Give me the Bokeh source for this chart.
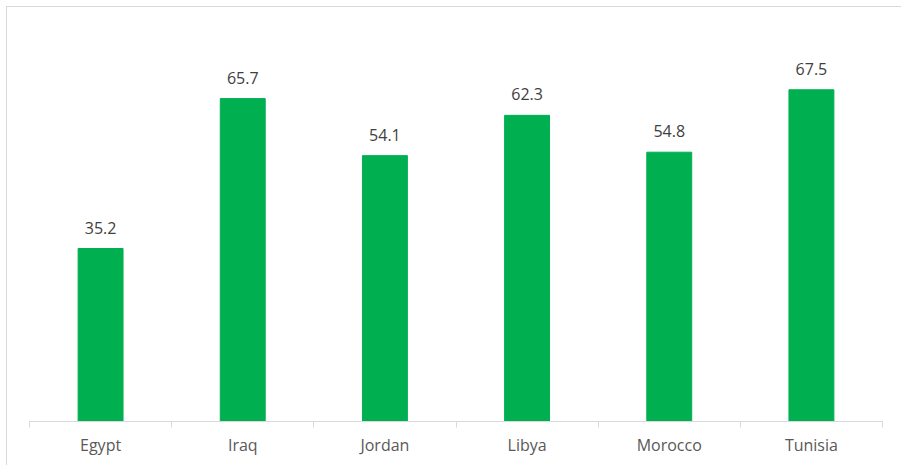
from bokeh.plotting import figure
from bokeh.models import ColumnDataSource, FixedTicker, Range1d, LabelSet
from bokeh.core.properties import value
from bokeh.embed import file_html
from bokeh.resources import INLINE

categories = ["Egypt", "Iraq", "Jordan", "Libya", "Morocco", "Tunisia"]
values = [35.2, 65.7, 54.1, 62.3, 54.8, 67.5]

xs = [i + 0.5 for i in range(len(categories))]
labels = [f"{v:.1f}" for v in values]
src = ColumnDataSource(dict(x=xs, top=values, label=labels))

p = figure(width=895, height=459, output_backend="svg", toolbar_location=None,
           x_range=Range1d(0, len(categories)), y_range=Range1d(0, 81.8),
           min_border_left=22, min_border_right=20, min_border_top=12, min_border_bottom=45)
p.styles = {"border-left": "1px solid #d9d9d9", "border-top": "1px solid #d9d9d9",
            "margin-left": "6px", "margin-top": "6px"}
p.outline_line_color = None
p.grid.visible = False
p.yaxis.visible = False

p.vbar(x="x", top="top", width=0.316, bottom=0, source=src, color="#00B050")

labs = LabelSet(x="x", y="top", text="label", source=src, text_align="center",
                text_baseline="bottom", y_offset=15, text_font=value("Open Sans"),
                text_font_size="16px", text_color="#404040")
p.add_layout(labs)

ax = p.xaxis[0]
ax.ticker = FixedTicker(ticks=xs, minor_ticks=list(range(len(categories) + 1)))
ax.major_label_overrides = {x: c for x, c in zip(xs, categories)}
ax.major_tick_out = 0
ax.major_tick_in = 0
ax.minor_tick_out = 6
ax.minor_tick_in = 0
ax.minor_tick_line_color = "#d9d9d9"
ax.axis_line_color = "#d9d9d9"
ax.major_label_text_font = "Open Sans"
ax.major_label_text_font_size = "16px"
ax.major_label_text_color = "#595959"
ax.major_label_standoff = 6

open("out.html", "w").write(file_html(p, INLINE))
